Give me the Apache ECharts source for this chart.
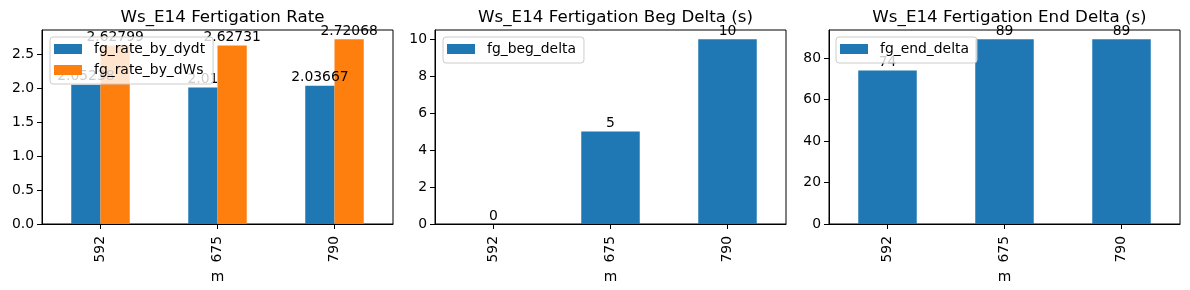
<!DOCTYPE html>
<html>
<head>
<meta charset="utf-8">
<script src="https://cdn.jsdelivr.net/npm/echarts@6/dist/echarts.min.js"></script>
<style>
html,body{margin:0;padding:0;background:#fff;}
#chart{width:1190px;height:290px;}
</style>
</head>
<body>
<div id="chart"></div>
<script>
// ---- data ----
var categories = ['592', '675', '790'];
var rateByDydt = [2.05238, 2.01, 2.03667];
var rateByDWs = [2.62799, 2.62731, 2.72068];
var begDelta = [0, 5, 10];
var endDelta = [74, 89, 89];
var titles = ['Ws_E14 Fertigation Rate', 'Ws_E14 Fertigation Beg Delta (s)', 'Ws_E14 Fertigation End Delta (s)'];
var xName = 'm';

var FONT = 'DejaVu Sans';
var FS = 13.9;
var BLUE = '#1f77b4', ORANGE = '#ff7f0e';

var grids = [
  {left: 42, width: 351, top: 30, height: 194},
  {left: 435, width: 351, top: 30, height: 194},
  {left: 829, width: 351, top: 30, height: 194}
];

function xAxis(i) {
  return {
    type: 'category', gridIndex: i, data: categories,
    name: xName, nameLocation: 'middle', nameGap: 37,
    nameTextStyle: {fontFamily: FONT, fontSize: FS, color: '#000'},
    axisLine: {show: true, lineStyle: {color: '#000', width: 1}},
    axisTick: {show: true, alignWithLabel: true, length: 5, lineStyle: {color: '#000'}},
    axisLabel: {rotate: 90, margin: 12, fontFamily: FONT, fontSize: FS, color: '#000', interval: 0},
    splitLine: {show: false}
  };
}
function yAxis(i, max, interval, dec) {
  return {
    type: 'value', gridIndex: i, min: 0, max: max, interval: interval,
    axisLine: {show: true, lineStyle: {color: '#000', width: 1}},
    axisTick: {show: true, length: 5, lineStyle: {color: '#000'}},
    axisLabel: {showMaxLabel: false, margin: 8, fontFamily: FONT, fontSize: FS, color: '#000',
      formatter: function (v) { return v.toFixed(dec); }},
    splitLine: {show: false}
  };
}
function lbl() {
  return {show: true, position: 'top', distance: 1, fontFamily: FONT, fontSize: FS, color: '#000',
    formatter: function (p) { return String(p.value); }};
}
function legend(left, names) {
  return {
    orient: 'vertical', left: left, top: 37, data: names,
    icon: 'rect', itemWidth: 28, itemHeight: 10, itemGap: 7,
    padding: [5, 8, 7, 4],
    backgroundColor: 'rgba(255,255,255,0.8)', borderColor: '#cccccc', borderWidth: 1, borderRadius: 3,
    textStyle: {fontFamily: FONT, fontSize: FS, color: '#000', padding: [0, 0, 0, 7]},
    z: 10
  };
}

var option = {
  animation: false,
  backgroundColor: '#fff',
  title: titles.map(function (t, i) {
    return {text: t, left: grids[i].left + grids[i].width / 2, top: 4, textAlign: 'center',
      textStyle: {fontFamily: FONT, fontSize: 16.7, fontWeight: 'normal', color: '#000'}};
  }),
  grid: grids.map(function (g) {
    return {left: g.left, width: g.width, top: g.top, height: g.height, show: true,
      borderColor: '#000', borderWidth: 1, backgroundColor: 'transparent', containLabel: false};
  }),
  legend: [
    legend(50, ['fg_rate_by_dydt', 'fg_rate_by_dWs']),
    legend(443, ['fg_beg_delta']),
    legend(836, ['fg_end_delta'])
  ],
  xAxis: [xAxis(0), xAxis(1), xAxis(2)],
  yAxis: [yAxis(0, 2.857, 0.5, 1), yAxis(1, 10.5, 2, 0), yAxis(2, 93.45, 20, 0)],
  series: [
    {name: 'fg_rate_by_dydt', type: 'bar', xAxisIndex: 0, yAxisIndex: 0, data: rateByDydt,
      itemStyle: {color: BLUE}, barCategoryGap: '50%', barGap: '0%', label: lbl()},
    {name: 'fg_rate_by_dWs', type: 'bar', xAxisIndex: 0, yAxisIndex: 0, data: rateByDWs,
      itemStyle: {color: ORANGE}, barCategoryGap: '50%', barGap: '0%', label: lbl()},
    {name: 'fg_beg_delta', type: 'bar', xAxisIndex: 1, yAxisIndex: 1, data: begDelta,
      itemStyle: {color: BLUE}, barWidth: '50%', label: lbl()},
    {name: 'fg_end_delta', type: 'bar', xAxisIndex: 2, yAxisIndex: 2, data: endDelta,
      itemStyle: {color: BLUE}, barWidth: '50%', label: lbl()}
  ]
};

var chart = echarts.init(document.getElementById('chart'), null, {renderer: 'canvas'});
chart.setOption(option);
</script>
</body>
</html>
